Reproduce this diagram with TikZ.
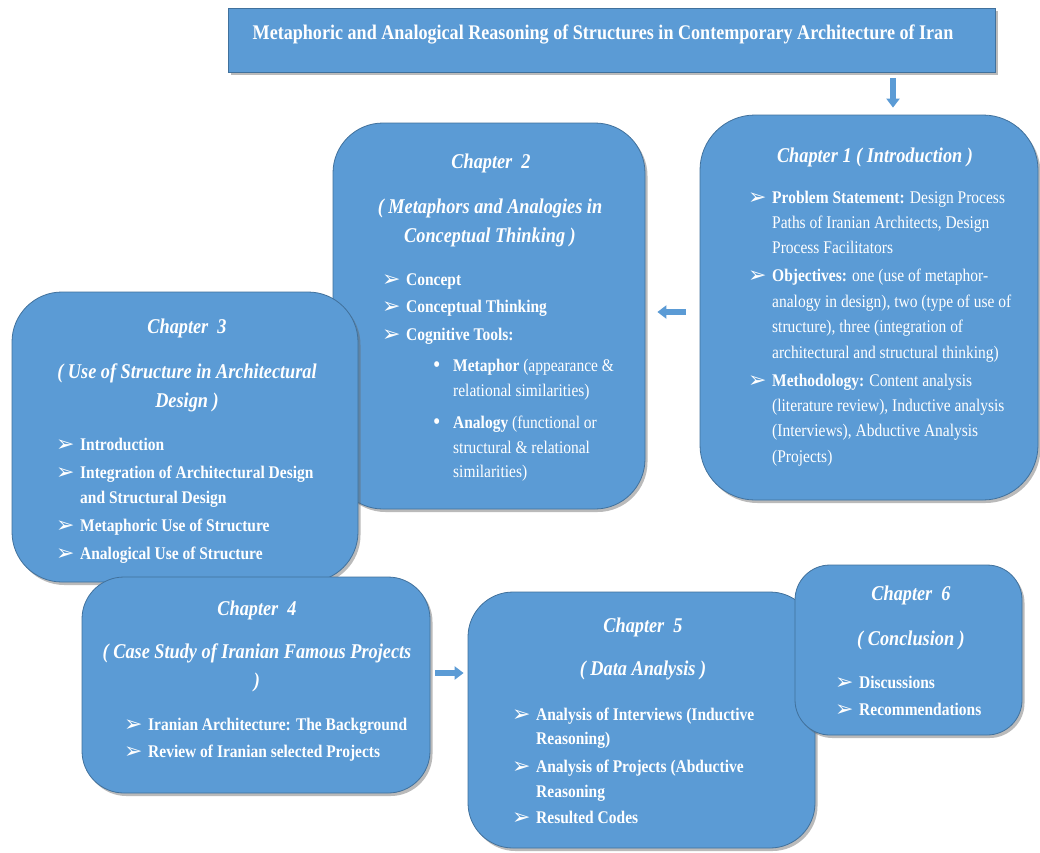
\documentclass[tikz,border=0pt]{standalone}
\usepackage{fontspec}
\setmainfont[FakeStretch=0.87]{Liberation Serif}
\newfontfamily\dingfont{DejaVu Sans}
\usetikzlibrary{shadows,arrows.meta}
\definecolor{boxblue}{HTML}{5B9BD5}
\definecolor{boxline}{HTML}{41719C}
\newcommand{\arrbul}{\makebox[24pt][l]{\raisebox{-1pt}{\dingfont\fontsize{22}{22}\selectfont ➢}}}
\newcommand{\dotbul}{\makebox[20pt][l]{\raisebox{-1.5pt}{\fontsize{24}{24}\selectfont•}}}
\tikzset{
  chbox/.style={draw=boxline, line width=0.8pt, fill=boxblue,
    drop shadow={shadow xshift=2.5pt, shadow yshift=-3pt, opacity=0.45, fill=black!60}},
  headtxt/.style={text=white, font=\fontsize{21}{25}\selectfont\bfseries\itshape, anchor=mid, inner sep=0pt, yshift=-3.5pt},
  linetxt/.style={text=white, font=\fontsize{17.8}{21}\selectfont, anchor=mid west, inner sep=0pt, yshift=-3pt},
  arr/.style={draw=boxblue, line width=6pt, -{Triangle[width=13pt,length=9pt]}}
}
\begin{document}
\begin{tikzpicture}[x=1pt,y=-1pt]
\useasboundingbox (0,0) rectangle (1040,852);
\fill[white] (0,0) rectangle (1040,852);

% title bar
\node[chbox, minimum width=767pt, minimum height=64pt] (title) at (611.5,40) {};
\node[text=white, font=\fontsize{20.8}{25}\selectfont\bfseries, anchor=mid, inner sep=0pt, yshift=-4.5pt] (titletxt) at (603,33)
  {Metaphoric and Analogical Reasoning of Structures in Contemporary Architecture of Iran};

% chapter 1
\node[chbox, rounded corners=55pt, minimum width=338pt, minimum height=385pt] (c1) at (869,307.5) {};
\node[headtxt] (c1h) at (875,157) {Chapter 1 ( Introduction )};
\node[linetxt] (c1a) at (748,198) {\arrbul\textbf{Problem Statement:} Design Process};
\node[linetxt] (c1b) at (772,223) {Paths of Iranian Architects, Design};
\node[linetxt] (c1c) at (772,248) {Process Facilitators};
\node[linetxt] (c1d) at (748,276) {\arrbul\textbf{Objectives:} one (use of metaphor-};
\node[linetxt] (c1e) at (772,302) {analogy in design), two (type of use of};
\node[linetxt] (c1f) at (772,327) {structure), three (integration of};
\node[linetxt] (c1g) at (772,353) {architectural and structural thinking)};
\node[linetxt] (c1i) at (748,381) {\arrbul\textbf{Methodology:} Content analysis};
\node[linetxt] (c1j) at (772,406) {(literature review), Inductive analysis};
\node[linetxt] (c1k) at (772,431) {(Interviews), Abductive Analysis};
\node[linetxt] (c1l) at (772,457) {(Projects)};

% chapter 2
\node[chbox, rounded corners=50pt, minimum width=312pt, minimum height=386pt] (c2) at (489,316) {};
\node[headtxt] (c2h) at (491,163) {Chapter\ \ 2};
\node[headtxt] (c2s1) at (490,208) {( Metaphors and Analogies in};
\node[headtxt] (c2s2) at (490,237) {Conceptual Thinking )};
\node[linetxt] (c2a) at (382,280) {\arrbul\textbf{Concept}};
\node[linetxt] (c2b) at (382,307) {\arrbul\textbf{Conceptual Thinking}};
\node[linetxt] (c2c) at (382,335) {\arrbul\textbf{Cognitive Tools:}};
\node[linetxt] (c2d) at (433,366) {\dotbul\textbf{Metaphor} (appearance \&};
\node[linetxt] (c2e) at (453,391) {relational similarities)};
\node[linetxt] (c2f) at (433,423) {\dotbul\textbf{Analogy} (functional or};
\node[linetxt] (c2g) at (453,448) {structural \& relational};
\node[linetxt] (c2i) at (453,472) {similarities)};

% chapter 3
\node[chbox, rounded corners=50pt, minimum width=346pt, minimum height=290pt] (c3) at (185,437) {};
\node[headtxt] (c3h) at (187,328) {Chapter\ \ 3};
\node[headtxt] (c3s1) at (187,373) {( Use of Structure in Architectural};
\node[headtxt] (c3s2) at (187,402) {Design )};
\node[linetxt] (c3a) at (56,445) {\arrbul\textbf{Introduction}};
\node[linetxt] (c3b) at (56,473) {\arrbul\textbf{Integration of Architectural Design}};
\node[linetxt] (c3c) at (80,498) {\textbf{and Structural Design}};
\node[linetxt] (c3d) at (56,526) {\arrbul\textbf{Metaphoric Use of Structure}};
\node[linetxt] (c3e) at (56,554) {\arrbul\textbf{Analogical Use of Structure}};

% chapter 4
\node[chbox, rounded corners=42pt, minimum width=348pt, minimum height=216pt] (c4) at (256,685) {};
\node[headtxt] (c4h) at (257,610) {Chapter\ \ 4};
\node[headtxt] (c4s1) at (257,653) {( Case Study of Iranian Famous Projects};
\node[headtxt] (c4s2) at (257,682) {)};
\node[linetxt] (c4a) at (124,725) {\arrbul\textbf{Iranian Architecture: The Background}};
\node[linetxt] (c4b) at (124,752) {\arrbul\textbf{Review of Iranian selected Projects}};

% chapter 5
\node[chbox, rounded corners=45pt, minimum width=347pt, minimum height=256pt] (c5) at (641.5,720) {};
\node[headtxt] (c5h) at (643,627) {Chapter\ \ 5};
\node[headtxt] (c5s) at (643,670) {( Data Analysis )};
\node[linetxt] (c5a) at (512,715) {\arrbul\textbf{Analysis of Interviews (Inductive}};
\node[linetxt] (c5b) at (536,739) {\textbf{Reasoning)}};
\node[linetxt] (c5c) at (512,767) {\arrbul\textbf{Analysis of Projects (Abductive}};
\node[linetxt] (c5d) at (536,792) {\textbf{Reasoning}};
\node[linetxt] (c5e) at (512,818) {\arrbul\textbf{Resulted Codes}};

% chapter 6
\node[chbox, rounded corners=35pt, minimum width=227pt, minimum height=170pt] (c6) at (908.5,650) {};
\node[headtxt] (c6h) at (911,595) {Chapter\ \ 6};
\node[headtxt] (c6s) at (911,640) {( Conclusion )};
\node[linetxt] (c6a) at (835,683) {\arrbul\textbf{Discussions}};
\node[linetxt] (c6b) at (835,710) {\arrbul\textbf{Recommendations}};

% flow arrows
\draw[arr] ([yshift=-6pt]title.south -| 893,0) -- ([yshift=7pt]c1.north -| 893,0);
\draw[arr] ([xshift=-14pt,yshift=-4.5pt]c1.west) -- ([xshift=12pt]c2.east |- 0,312);
\draw[arr] ([xshift=5pt,yshift=12pt]c4.east) -- ([xshift=-4pt]c5.west |- 0,673);
\end{tikzpicture}
\end{document}
